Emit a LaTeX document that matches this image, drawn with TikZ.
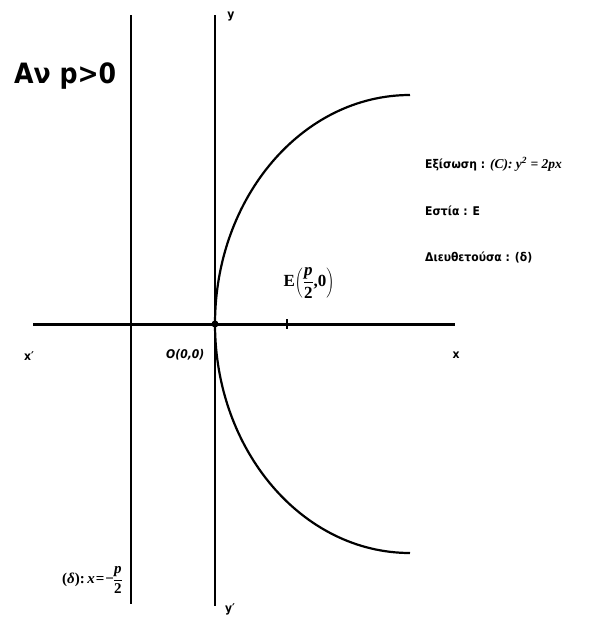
\documentclass[tikz,border=0pt]{standalone}
\usepackage{fontspec}
\usetikzlibrary{calc}
\setmainfont{DejaVu Sans Condensed}
\newfontfamily\mathlike{Liberation Serif}
\begin{document}
\begin{tikzpicture}[x=1pt,y=-1pt,
  axis/.style={line width=3pt},
  vline/.style={line width=2pt},
  lbl/.style={inner sep=0pt, font=\bfseries\fontsize{12}{14}\selectfont},
  small/.style={inner sep=0pt, font=\bfseries\fontsize{12}{14}\selectfont}]
\useasboundingbox (0,0) rectangle (590,622);
\fill[white] (0,0) rectangle (590,622);
% axes
\coordinate (xl) at (33,324);
\coordinate (xr) at (455,324);
\coordinate (yt) at (215,15);
\coordinate (yb) at (215,606);
\coordinate (dt) at (131,15);
\coordinate (db) at (131,604);
\draw[axis] (xl) -- (xr);
\draw[vline] (yt) -- (yb);
\draw[vline] (dt) -- (db);
% curve
\coordinate (ctop) at (410,95);
\draw[line width=2.2pt] (ctop) arc[start angle=270, end angle=90, x radius=195, y radius=229];
% marks
\coordinate (O) at (215,324);
\coordinate (E) at (287,324);
\fill (O) circle (3.5);
\draw[line width=1.6pt] ($(E)+(0,-5)$) -- ($(E)+(0,5)$);
% labels
\node[anchor=west, inner sep=0pt, font=\bfseries\fontsize{28}{32}\selectfont] (title) at (14,76) {Αν p>0};
\node[lbl, anchor=west] (eq) at (425,164) {Εξίσωση : {\mathlike\bfseries\itshape\fontsize{13.5}{16}\selectfont (C): y\textsuperscript{2} = 2px}};
\node[lbl, anchor=west] (foc) at (425,211) {Εστία : Ε};
\node[lbl, anchor=west] (dir) at (425,257) {Διευθετούσα : (δ)};
\node[inner sep=0pt, font=\mathlike\bfseries\fontsize{17}{20}\selectfont] (Elab) at (309,283) {Ε$\left(\displaystyle\frac{\hbox{\itshape p}}{\hbox{2}}\hbox{,0}\right)$};
\node[small, anchor=west] (xp) at (24,356) {x′};
\node[small, anchor=west, font=\bfseries\itshape\fontsize{12}{14}\selectfont] (Olab) at (166,355) {O(0,0)};
\node[small] (xlab) at (456,355) {x};
\node[small] (ylab) at (231,17) {y};
\node[small] (yplab) at (230,609) {y′};
\node[inner sep=0pt, anchor=west, font=\mathlike\bfseries\fontsize{15}{18}\selectfont] (dlab) at (62,580) {(\textit{δ}):\,\textit{x}\kern1pt=\kern1pt−\kern-1pt$\displaystyle\frac{\hbox{\itshape p}}{\hbox{2}}$};
\end{tikzpicture}
\end{document}
